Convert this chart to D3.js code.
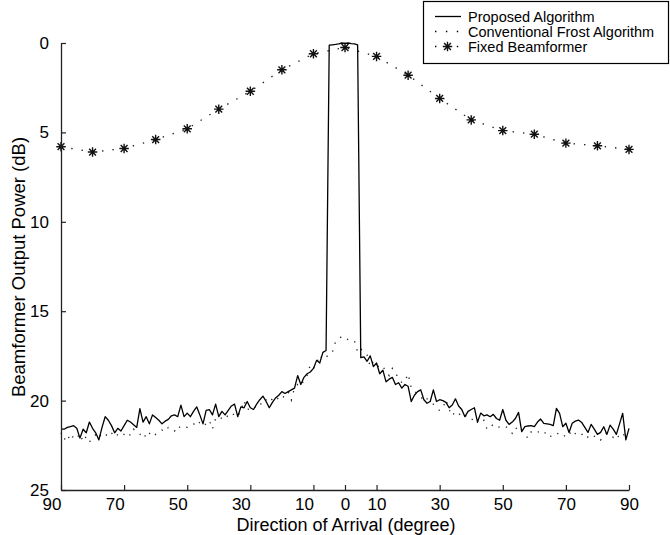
<!DOCTYPE html>
<html>
<head>
	<meta charset="utf-8"/>
	<script src="https://cdn.jsdelivr.net/npm/d3@7"></script>
	<style type="text/css">
		body { margin: 0; background: #fff; }
		svg { display: block; font-family: "Liberation Sans", Arial, Helvetica, sans-serif; }
	</style>
</head>
<body>
	<svg id="chart" width="670" height="535"></svg>
	<script type="text/javascript">

		// direction of arrival, 1 degree steps
		var angles = d3.range(-90, 91);

		var proposedDb = [
			21.6, 21.6, 21.5, 21.45, 21.4, 21.55, 22.1, 21.6, 21.8, 21.2,
			21.55, 21.8, 22.2, 21.5, 20.9, 21.1, 21.4, 21.8, 21.55, 21.7,
			21.4, 21.1, 21.2, 21.35, 21.5, 20.45, 21.2, 20.9, 21.3, 20.8,
			20.95, 21.1, 21.3, 21.15, 21.05, 20.85, 20.8, 20.9, 20.25, 20.9,
			20.7, 20.9, 20.6, 20.35, 20.8, 21.3, 20.55, 20.5, 20.8, 20.2,
			20.9, 20.6, 20.8, 20.55, 20.3, 20.2, 20.9, 20.35, 20.4, 20.05,
			20.4, 20.5, 20.2, 19.95, 19.75, 20.05, 20.4, 20.1, 19.85, 19.7,
			19.5, 19.6, 19.5, 19.4, 19.3, 18.6, 19.1, 18.7, 18.5, 18.4,
			18.2, 17.75, 17.9, 17.3, 17.2, 0.12, 0.1, 0.08, 0.05, 0.0,
			0.02, 0.0, 0.03, 0.05, 0.1, 17.6, 17.55, 17.8, 17.5, 18.1,
			17.9, 18.5, 18.3, 18.95, 18.8, 18.7, 19.1, 19.0, 19.3, 19.1,
			19.2, 20.05, 19.7, 19.5, 19.4, 19.95, 20.15, 20.05, 19.4, 20.05,
			19.95, 20.0, 20.1, 20.4, 20.25, 19.9, 20.3, 20.5, 20.9, 20.6,
			20.5, 20.4, 21.2, 20.7, 20.85, 20.8, 20.9, 20.77, 21.0, 21.1,
			20.5, 21.1, 21.33, 21.2, 21.0, 20.66, 21.74, 21.46, 21.42, 21.4,
			21.46, 21.2, 21.03, 21.27, 21.3, 21.33, 21.4, 20.43, 20.71, 21.46,
			21.27, 21.78, 21.27, 21.15, 21.09, 21.22, 21.5, 21.78, 21.33, 21.6,
			21.89, 21.78, 21.46, 21.89, 21.37, 21.6, 21.89, 21.3, 20.71, 22.2,
			21.55
		];

		var frostDb = [
			21.8, 22.2, 21.9, 22.25, 21.95, 22.1, 21.85, 22.3, 22.0, 22.3,
			22.15, 21.9, 22.1, 21.8, 21.85, 22.05, 21.85, 21.7, 21.95, 21.8,
			21.9, 21.75, 21.95, 21.6, 21.8, 21.9, 21.75, 22.1, 21.85, 21.7,
			21.9, 21.8, 21.65, 21.75, 21.5, 21.55, 21.7, 21.4, 21.55, 21.45,
			21.5, 21.35, 21.3, 21.45, 21.2, 21.4, 21.3, 21.1, 21.6, 21.0,
			21.1, 20.95, 21.05, 20.8, 20.9, 20.7, 20.85, 20.6, 20.0, 20.5,
			20.45, 20.3, 20.4, 20.15, 20.25, 19.95, 20.1, 19.9, 19.75, 19.95,
			19.97, 19.6, 19.5, 19.97, 19.3, 19.1, 19.2, 18.85, 18.6, 18.0,
			18.2, 17.9, 17.45, 17.7, 17.6, 17.35, 17.3, 16.7, 16.55, 16.4,
			16.45, 16.6, 16.65, 16.65, 17.3, 17.1, 17.3, 17.45, 18.1, 17.8,
			17.95, 18.2, 18.1, 18.35, 18.6, 18.2, 18.5, 18.7, 19.0, 18.9,
			18.5, 19.3, 19.5, 19.6, 19.75, 20.05, 19.9, 20.1, 20.2, 20.37,
			20.56, 20.4, 19.96, 20.5, 20.86, 20.6, 20.7, 20.9, 20.8, 21.0,
			21.1, 20.95, 21.2, 21.3, 21.1, 21.6, 21.55, 21.3, 21.4, 21.5,
			21.4, 21.46, 21.6, 21.83, 21.5, 21.7, 21.6, 21.89, 22.1, 21.75,
			21.8, 21.7, 21.9, 21.85, 21.75, 22.0, 21.96, 21.8, 21.9, 21.85,
			22.07, 21.9, 21.65, 21.85, 22.0, 21.9, 21.8, 22.05, 21.9, 22.0,
			22.0, 22.2, 21.95, 21.8, 21.9, 22.05, 21.85, 22.1, 21.89, 21.95,
			21.8
		];

		// fixed beamformer, 10 degree steps
		var fixedAngles = d3.range(-90, 91, 10);
		var fixedDb = [5.8, 6.1, 5.9, 5.4, 4.8, 3.7, 2.7, 1.5, 0.6, 0.25,
			0.75, 1.8, 3.1, 4.3, 4.9, 5.1, 5.6, 5.75, 5.95];

		var xTicks = [-90, -70, -50, -30, -10, 0, 10, 30, 50, 70, 90];
		var yTicks = [0, 5, 10, 15, 20, 25];
		var legendLabels = ["Proposed Algorithm", "Conventional Frost Algorithm", "Fixed Beamformer"];

		var svg = d3.select("#chart");

		var x = d3.scaleLinear().domain([-90, 90]).range([61, 629]);
		var y = d3.scaleLinear().domain([0, 25]).range([43, 490]);

		// matlab style 8 point star
		var star = {
			draw: function(ctx, size) {
				var r = Math.sqrt(size) / 2;
				var d = r * 0.72;
				ctx.moveTo(-r, 0); ctx.lineTo(r, 0);
				ctx.moveTo(0, -r); ctx.lineTo(0, r);
				ctx.moveTo(-d, -d); ctx.lineTo(d, d);
				ctx.moveTo(-d, d); ctx.lineTo(d, -d);
			}
		};
		var starPath = d3.symbol().type(star).size(90)();

		var line = d3.line()
			.x(function(d) { return x(d[0]); })
			.y(function(d) { return y(d[1]); });

		var proposed = d3.zip(angles, proposedDb);
		var frost = d3.zip(angles, frostDb);
		var fixed = d3.zip(fixedAngles, fixedDb);

		// fixed beamformer dotted line + stars
		svg.append("path")
			.attr("d", line(fixed))
			.attr("fill", "none")
			.attr("stroke", "#222")
			.attr("stroke-width", 1.4)
			.attr("stroke-dasharray", "1.4,9");

		svg.append("g").selectAll("path")
			.data(fixed).enter()
				.append("path")
				.attr("d", starPath)
				.attr("transform", function(d) { return "translate(" + x(d[0]) + "," + y(d[1]) + ")"; })
				.attr("fill", "none")
				.attr("stroke", "#111")
				.attr("stroke-width", 1.4);

		// conventional frost, dotted
		svg.append("path")
			.attr("d", line(frost))
			.attr("fill", "none")
			.attr("stroke", "#222")
			.attr("stroke-width", 1.3)
			.attr("stroke-dasharray", "1.3,7");

		// proposed, solid
		svg.append("path")
			.attr("d", line(proposed))
			.attr("fill", "none")
			.attr("stroke", "#000")
			.attr("stroke-width", 1.3)
			.attr("stroke-linejoin", "round");

		// axes
		var yAxis = svg.append("g")
			.attr("transform", "translate(61,0)")
			.call(d3.axisLeft(y).tickValues(yTicks).tickSizeInner(-5).tickSizeOuter(0).tickPadding(12));

		var xAxis = svg.append("g")
			.attr("transform", "translate(0,490)")
			.call(d3.axisBottom(x).tickValues(xTicks).tickSizeInner(-5).tickSizeOuter(0).tickPadding(8)
				.tickFormat(function(d) { return Math.abs(d); }));

		xAxis.selectAll(".tick text")
			.attr("text-anchor", function(d) { return d < 0 ? "end" : "middle"; });

		svg.selectAll(".domain").attr("stroke", "#222").attr("stroke-width", 1.3);
		svg.selectAll(".tick line").attr("stroke", "#222").attr("stroke-width", 1.2);
		svg.selectAll(".tick text")
			.attr("fill", "#000")
			.style("font-size", "17px")
			.style("font-family", "'Liberation Sans', Arial, Helvetica, sans-serif");

		// axis titles
		svg.append("text")
			.attr("x", 346)
			.attr("y", 531)
			.attr("text-anchor", "middle")
			.style("font-size", "18px")
			.text("Direction of Arrival (degree)");

		svg.append("text")
			.attr("transform", "translate(25,267) rotate(-90)")
			.attr("text-anchor", "middle")
			.style("font-size", "18.5px")
			.text("Beamformer Output Power (dB)");

		// legend
		var legend = svg.append("g");
		legend.append("rect")
			.attr("x", 423.5).attr("y", 1.5)
			.attr("width", 245).attr("height", 62)
			.attr("fill", "#fff")
			.attr("stroke", "#000")
			.attr("stroke-width", 1.2);

		var rowY = [16.5, 31.5, 46.5];
		var dashes = [null, "1.4,9.5", "1.4,9.5"];

		legend.selectAll("line.sample")
			.data(legendLabels).enter()
				.append("line")
				.attr("class", "sample")
				.attr("x1", 435).attr("x2", 461)
				.attr("y1", function(d, i) { return rowY[i]; })
				.attr("y2", function(d, i) { return rowY[i]; })
				.attr("stroke", "#000")
				.attr("stroke-width", 1.3)
				.attr("stroke-dasharray", function(d, i) { return dashes[i]; });

		legend.append("path")
			.attr("d", starPath)
			.attr("transform", "translate(447.5," + rowY[2] + ")")
			.attr("fill", "none")
			.attr("stroke", "#111")
			.attr("stroke-width", 1.4);

		legend.selectAll("text")
			.data(legendLabels).enter()
				.append("text")
				.attr("x", 468)
				.attr("y", function(d, i) { return rowY[i] + 5; })
				.style("font-size", "14.5px")
				.text(function(d) { return d; });

	</script>
</body>
</html>
